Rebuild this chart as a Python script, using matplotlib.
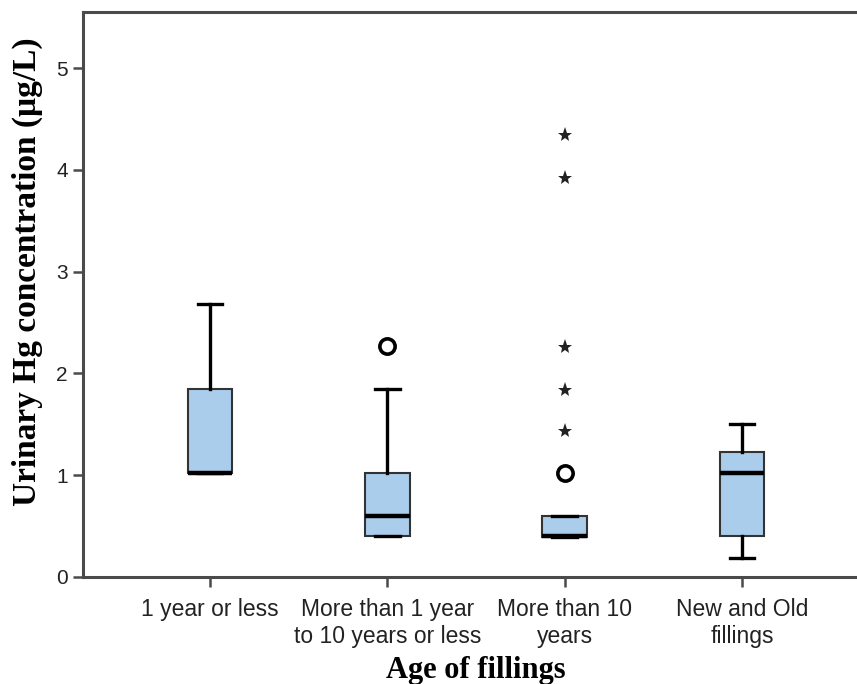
import numpy as np
import matplotlib
matplotlib.use('Agg')
import matplotlib.pyplot as plt

CATEGORIES = [
    '1 year or less',
    'More than 1 year\nto 10 years or less',
    'More than 10\nyears',
    'New and Old\nfillings',
]
Q1 = [1.02, 0.40, 0.39, 0.40]
MEDIAN = [1.02, 0.60, 0.40, 1.02]
Q3 = [1.85, 1.02, 0.60, 1.23]
WHISK_LO = [1.02, 0.40, 0.39, 0.19]
WHISK_HI = [2.68, 1.85, 0.60, 1.50]
# circles = outliers, stars = extreme values (SPSS style)
OUTLIERS = [[], [2.27], [1.02], []]
EXTREMES = [[], [], [1.43, 1.84, 2.26, 3.92, 4.34], []]

FILL = '#aacdec'
SPINE = '#4a4a4a'

fig = plt.figure(figsize=(8.57, 6.84), dpi=100)
ax = fig.add_axes([83 / 857, 1 - 577 / 684, 1 - 83 / 857, (577 - 12) / 684])

positions = np.arange(1, len(CATEGORIES) + 1)
stats = []
for i in range(len(CATEGORIES)):
    stats.append(dict(med=MEDIAN[i], q1=Q1[i], q3=Q3[i],
                      whislo=WHISK_LO[i], whishi=WHISK_HI[i], fliers=[]))

ax.bxp(stats, positions=positions, widths=0.25, patch_artist=True,
       showfliers=False, capwidths=0.14,
       boxprops=dict(facecolor=FILL, edgecolor='#333333', linewidth=1.5),
       medianprops=dict(color='black', linewidth=3.2, solid_capstyle='butt'),
       whiskerprops=dict(color='black', linewidth=2.4),
       capprops=dict(color='black', linewidth=2.4))

for i, p in enumerate(positions):
    if OUTLIERS[i]:
        ax.plot([p] * len(OUTLIERS[i]), OUTLIERS[i], 'o', ms=11,
                mfc='white', mec='black', mew=2.6, zorder=4)
    if EXTREMES[i]:
        ax.plot([p] * len(EXTREMES[i]), EXTREMES[i], '*', ms=11,
                color='#222222', mew=0, zorder=4)

ax.set_xlim(1 - (210 - 83) / 177.3, 4 + (857 - 742) / 177.3)
ax.set_ylim(0, 565 / 101.8)
ax.set_yticks([0, 1, 2, 3, 4, 5])
ax.set_xticks(positions)
ax.set_xticklabels(CATEGORIES, fontfamily='Liberation Sans', fontsize=16.5,
                   color='#222222', linespacing=1.25)
for lab in ax.get_yticklabels():
    lab.set_fontfamily('Liberation Sans')
    lab.set_fontsize(15)
    lab.set_color('#222222')

ax.spines['right'].set_visible(False)
for s in ['left', 'bottom', 'top']:
    ax.spines[s].set_color(SPINE)
    ax.spines[s].set_linewidth(2.2)
ax.tick_params(axis='both', direction='out', length=7, width=1.8,
               color=SPINE, pad=4)
ax.tick_params(axis='x', pad=8)

ax.set_ylabel('Urinary Hg concentration (\u03bcg/L)', fontfamily='Liberation Serif',
              fontweight='bold', fontsize=24)
ax.yaxis.set_label_coords(-0.052, 0.54)
ax.set_xlabel('Age of fillings', fontfamily='Liberation Serif',
              fontweight='bold', fontsize=22)
ax.xaxis.set_label_coords(0.508, -0.139)

fig.savefig('out.png', dpi=100)
